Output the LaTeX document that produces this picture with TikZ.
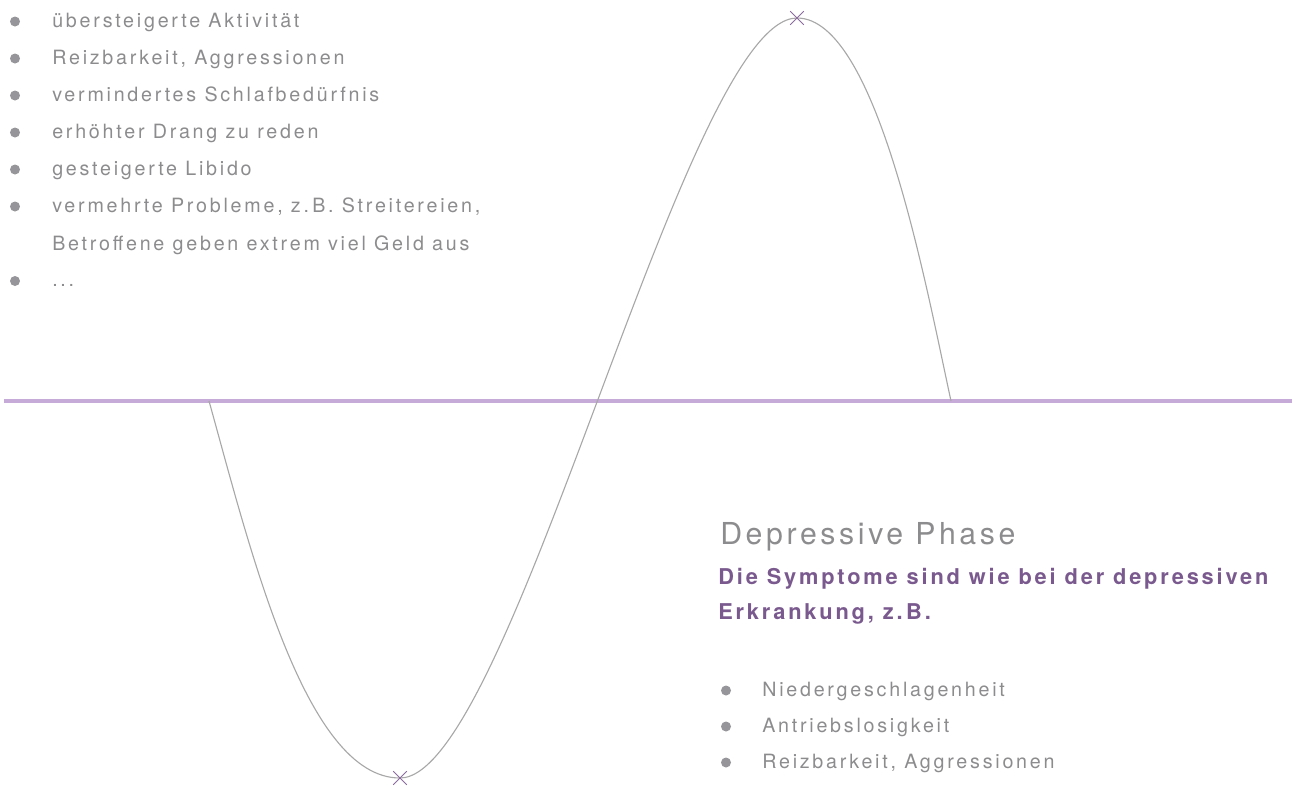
\documentclass[tikz,border=0pt]{standalone}
\usepackage{fontspec}
\setmainfont{TeX Gyre Heros}
\newfontfamily\listfont[LetterSpace=14]{TeX Gyre Heros}
\newfontfamily\headfont[LetterSpace=12]{TeX Gyre Heros}
\newfontfamily\leadfont[LetterSpace=13]{TeX Gyre Heros}
\usetikzlibrary{shapes.misc}
\definecolor{textgray}{HTML}{8C8C8E}
\definecolor{dotgray}{HTML}{96969A}
\definecolor{curvegray}{HTML}{A8A8A8}
\definecolor{leadpurple}{HTML}{7A5A8E}
\definecolor{axislilac}{HTML}{C6AAD7}
\definecolor{markpurple}{HTML}{8C6C9E}

\begin{document}
\begin{tikzpicture}[
    x=0.025cm, y=-0.025cm,
    item/.style={anchor=base west, inner sep=0, text=textgray, font=\listfont\fontsize{14}{16}\selectfont},
    dot/.style={circle, fill=dotgray, inner sep=0, minimum size=0.25cm},
    heading/.style={anchor=base west, inner sep=0, text=textgray, font=\headfont\fontsize{21.5}{25}\selectfont},
    lead/.style={anchor=base west, inner sep=0, text=leadpurple, font=\leadfont\bfseries\fontsize{15.5}{18}\selectfont},
    axis/.style={axislilac, line width=2.5pt},
    wave/.style={curvegray, line width=0.8pt},
    extremum/.style={draw=markpurple, cross out, line width=0.6pt, inner sep=0, minimum size=0.32cm}
]
\useasboundingbox (0,0) rectangle (1295,785);

% Manic phase symptoms
\node[dot] (d1) at (15,21.5) {};
\node[item] (m1) at (52,27) {übersteigerte Aktivität};
\node[dot] (d2) at (15,58.5) {};
\node[item] (m2) at (52,64) {Reizbarkeit, Aggressionen};
\node[dot] (d3) at (15,95.5) {};
\node[item] (m3) at (52,101) {vermindertes Schlafbedürfnis};
\node[dot] (d4) at (15,132.5) {};
\node[item] (m4) at (52,138) {erhöhter Drang zu reden};
\node[dot] (d5) at (15,169.5) {};
\node[item] (m5) at (52,175) {gesteigerte Libido};
\node[dot] (d6) at (15,206.5) {};
\node[item] (m6) at (52,212) {vermehrte Probleme, z.\,B. Streitereien,};
\node[item] (m6b) at (52,250) {Betroffene geben extrem viel Geld aus};
\node[dot] (d7) at (15,281) {};
\node[item] (m7) at (52,286.5) {...};

% Axis
\coordinate (axl) at (4,401);
\coordinate (axr) at (1292,401);
\draw[axis] (axl) -- (axr);

% Mood curve
\coordinate (start) at (209,401);
\coordinate (trough) at (400,778);
\coordinate (peak) at (797,18);
\coordinate (stop) at (951,401);
\draw[wave] (start) .. controls (250,548) and (305,778) .. (trough)
                    .. controls (512,778) and (685,18) .. (peak)
                    .. controls (877,18) and (926,286) .. (stop);
\node[extremum] (xpeak) at (peak) {};
\node[extremum] (xtrough) at (trough) {};

% Depressive phase
\node[heading] (dephead) at (720,544) {Depressive Phase};
\node[lead] (lead1) at (718,584) {Die Symptome sind wie bei der depressiven};
\node[lead] (lead2) at (718,619) {Erkrankung, z.\,B.};
\node[dot] (e1) at (726,690.5) {};
\node[item] (p1) at (762,696) {Niedergeschlagenheit};
\node[dot] (e2) at (726,726.5) {};
\node[item] (p2) at (762,732) {Antriebslosigkeit};
\node[dot] (e3) at (726,762.5) {};
\node[item] (p3) at (762,768) {Reizbarkeit, Aggressionen};

\end{tikzpicture}
\end{document}
